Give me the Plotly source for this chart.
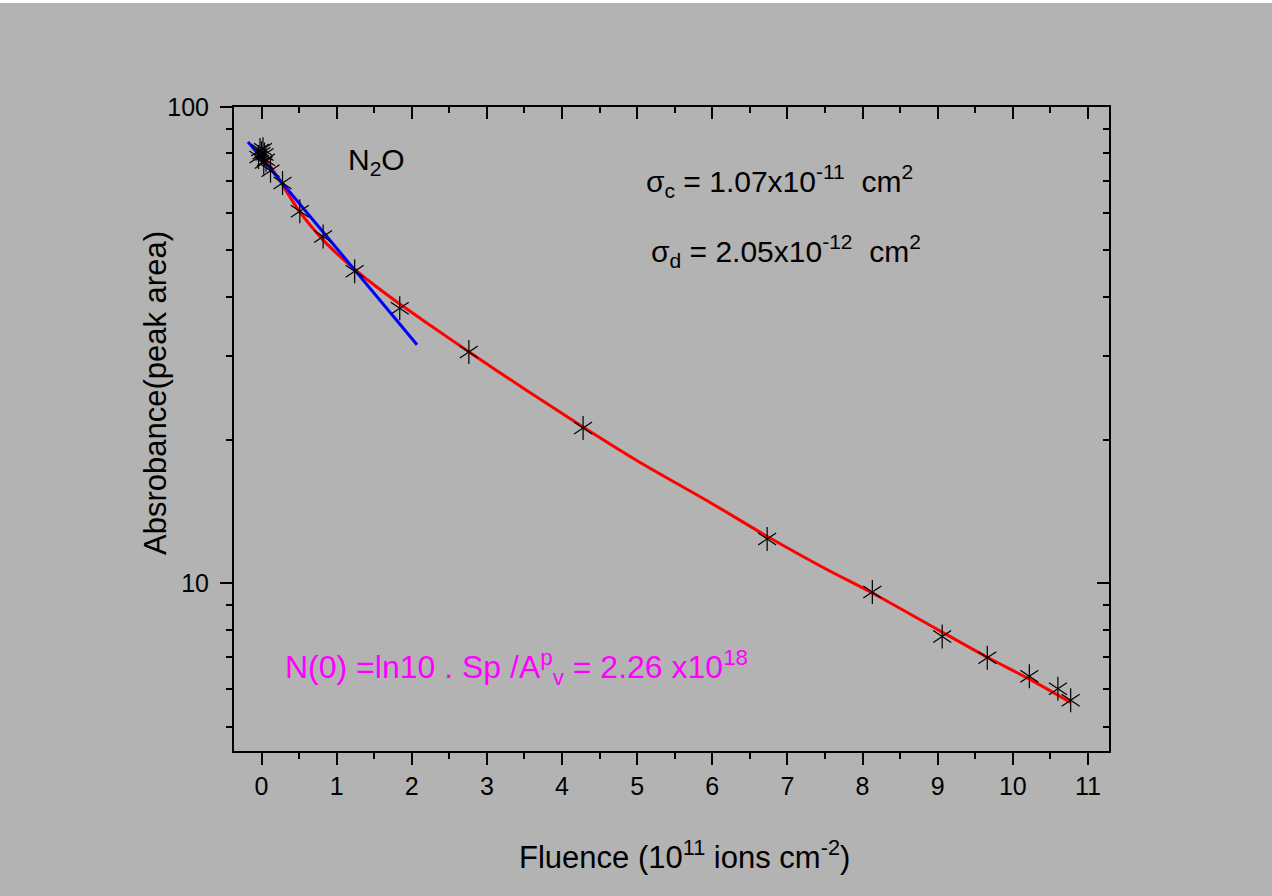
import plotly.graph_objects as go
import math

# ---- data ----
fluence = [-0.04, -0.02, 0.0, 0.02, 0.04, 0.06, 0.03, 0.12, 0.28, 0.51, 0.82, 1.24, 1.84,
           2.76, 4.28, 6.73, 8.13, 9.06, 9.66, 10.22, 10.60, 10.77]
absorb = [78.5, 81.2, 80.0, 81.5, 79.5, 77.5, 76.5, 73.5, 69.3, 60.4, 53.5, 45.2, 37.8,
          30.6, 21.2, 12.4, 9.59, 7.74, 6.98, 6.39, 6.01, 5.69]

fit_x = [0.0, 0.25, 0.5, 0.8, 1.0, 1.25, 1.5, 1.85, 2.25, 2.75, 3.5, 4.3, 5.0, 6.0,
         6.75, 7.5, 8.13, 9.0, 9.66, 10.22, 10.77]
fit_y = [80.0, 69.8, 60.5, 53.0, 49.3, 45.5, 42.3, 38.5, 34.8, 30.7, 25.6, 21.2, 18.1, 14.7,
         12.5, 10.75, 9.55, 8.0, 7.0, 6.3, 5.63]

lin_x = [-0.18, 2.07]
lin_y = [84.5, 31.7]

x_ticks = list(range(0, 12))
y_ticks = [10, 100]
y_minor = [5, 6, 7, 8, 9, 20, 30, 40, 50, 60, 70, 80, 90]

X_RANGE = [-0.366, 11.28]
Y_RANGE = [math.log10(4.45), 2.0]

FONT = "Arial, Liberation Sans, sans-serif"
BG = "#b3b3b3"

# plot-area pixel geometry
L, R, T, B = 234, 1109, 107, 751
W, H = 1272, 896


def px(xp):
    return (xp - L) / (R - L)


def py(yp):
    return (B - yp) / (B - T)


fig = go.Figure()

fig.add_trace(go.Scatter(x=fit_x, y=fit_y, mode="lines",
                         line=dict(color="#ff0000", width=3, shape="spline", smoothing=0.8),
                         showlegend=False))
fig.add_trace(go.Scatter(x=lin_x, y=lin_y, mode="lines",
                         line=dict(color="#0000ff", width=3), showlegend=False))
for sym in ["y-up-open", "y-down-open"]:
    fig.add_trace(go.Scatter(x=fluence, y=absorb, mode="markers",
                             marker=dict(symbol=sym, size=15, color="black",
                                         line=dict(color="black", width=1.2)),
                             showlegend=False))
# invisible trace for the mirror axes
fig.add_trace(go.Scatter(x=fluence, y=absorb, mode="markers", xaxis="x2", yaxis="y2",
                         marker=dict(opacity=0), showlegend=False, hoverinfo="skip"))

common = dict(showgrid=False, zeroline=False, showline=True, linecolor="black",
              linewidth=2, tickcolor="black", tickwidth=2, ticklen=12)

fig.update_layout(
    width=W, height=H,
    margin=dict(l=L, r=W - R, t=T, b=H - B, pad=0),
    paper_bgcolor=BG, plot_bgcolor=BG,
    font=dict(family=FONT, color="black", size=25),
    xaxis=dict(range=X_RANGE, tickmode="array", tickvals=x_ticks, ticks="outside",
               minor=dict(tickmode="array", tickvals=[v + 0.5 for v in range(-1, 11)],
                          ticklen=6, tickwidth=2, tickcolor="black", ticks="outside"),
               tickfont=dict(size=25), **common),
    yaxis=dict(type="log", range=Y_RANGE, tickmode="array", tickvals=y_ticks,
               ticktext=["10", "100"], ticks="outside",
               minor=dict(tickmode="array", tickvals=y_minor, ticklen=6, tickwidth=2,
                          tickcolor="black", ticks="outside"),
               tickfont=dict(size=25), ticklabelstandoff=6, **common),
    xaxis2=dict(range=X_RANGE, overlaying="x", side="top", anchor="y2",
                tickmode="array", tickvals=x_ticks, ticks="inside", showticklabels=False,
                minor=dict(tickmode="array", tickvals=[v + 0.5 for v in range(-1, 11)],
                           ticklen=6, tickwidth=2, tickcolor="black", ticks="inside"),
                **common),
    yaxis2=dict(type="log", range=Y_RANGE, overlaying="y", side="right", anchor="x2",
                tickmode="array", tickvals=y_ticks, ticks="inside", showticklabels=False,
                minor=dict(tickmode="array", tickvals=y_minor, ticklen=6, tickwidth=2,
                           tickcolor="black", ticks="inside"),
                **common),
)

ann = [
    dict(text="N<sub>2</sub>O", x=px(346), y=py(161), xanchor="left", yanchor="middle",
         font=dict(size=30)),
    dict(text="σ<sub>c</sub> = 1.07x10<sup>-11</sup>  cm<sup>2</sup>", x=px(644), y=py(181),
         xanchor="left", yanchor="middle", font=dict(size=30)),
    dict(text="σ<sub>d</sub> = 2.05x10<sup>-12</sup>  cm<sup>2</sup>", x=px(649), y=py(251),
         xanchor="left", yanchor="middle", font=dict(size=30)),
    dict(text="N(0) =ln10 . Sp /A<sup>p</sup><sub>v</sub> = 2.26 x10<sup>18</sup>",
         x=px(283), y=py(667), xanchor="left", yanchor="middle",
         font=dict(size=32, color="#ff00ff")),
    dict(text="Fluence (10<sup>11</sup> ions cm<sup>-2</sup>)", x=px(684), y=py(855),
         xanchor="center", yanchor="middle", font=dict(size=31)),
    dict(text="Absrobance(peak area)", x=px(155), y=py(393), xanchor="center",
         yanchor="middle", textangle=-90, font=dict(size=31)),
]
for a in ann:
    a.update(xref="paper", yref="paper", showarrow=False)
fig.update_layout(annotations=ann)

# thin white strip along the top edge
fig.add_shape(type="rect", xref="paper", yref="paper", x0=px(0), x1=px(W),
              y0=py(3), y1=py(0), fillcolor="white", line=dict(width=0), layer="above")

fig.write_html("out.html")
